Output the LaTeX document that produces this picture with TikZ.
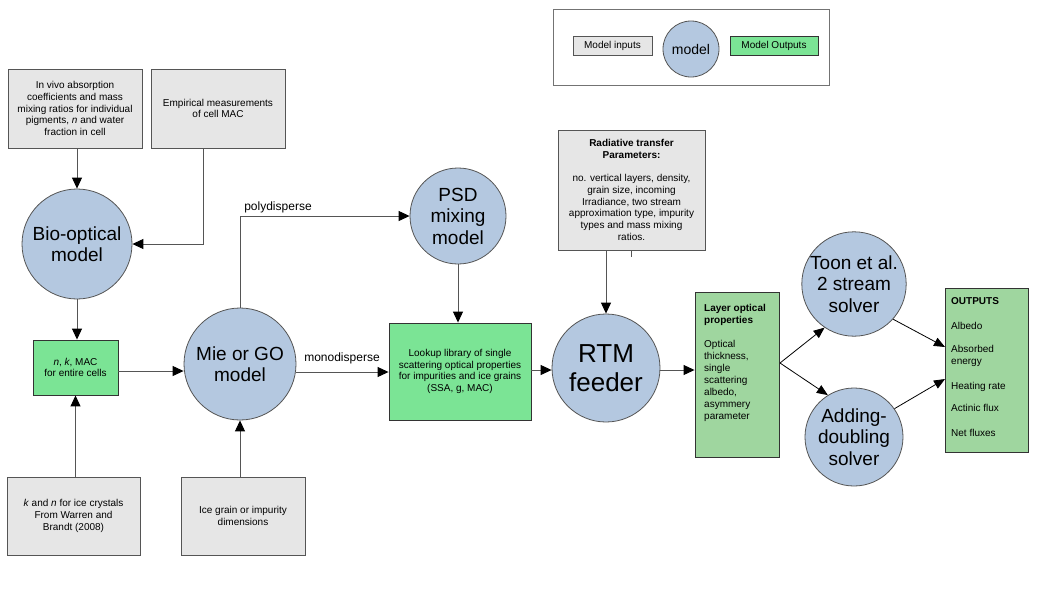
\documentclass[tikz,border=0pt]{standalone}
\usepackage{fontspec}
\setmainfont{Liberation Sans}
\usetikzlibrary{arrows.meta,calc}
\definecolor{gbox}{HTML}{E6E6E6}
\definecolor{gbright}{HTML}{7BE495}
\definecolor{gdull}{HTML}{9FD69F}
\definecolor{cblue}{HTML}{B4C8E0}
\definecolor{lncol}{HTML}{555555}
\begin{document}
\begin{tikzpicture}[x=1pt,y=-1pt,
  inbox/.style={draw=lncol, fill=gbox, line width=0.9pt, inner sep=0pt, align=center,
    font=\fontsize{10}{11.7}\selectfont},
  brightbox/.style={draw=black!80, fill=gbright, line width=0.9pt, inner sep=0pt, align=center,
    font=\fontsize{10}{11.7}\selectfont},
  dullbox/.style={draw=black!80, fill=gdull, line width=0.9pt, inner sep=0pt},
  model/.style={circle, draw=lncol, fill=cblue, line width=0.8pt, inner sep=0pt, align=center,
    font=\fontsize{19}{21.5}\selectfont},
  arr/.style={draw=lncol, line width=1pt, -{Triangle[length=11pt,width=10pt,color=black,fill=black]}},
  barr/.style={draw=black, line width=0.8pt, -{Triangle[length=11pt,width=9pt,color=black,fill=black]}},
  plain/.style={draw=lncol, line width=1pt},
  lbl/.style={font=\fontsize{12}{14}\selectfont, inner sep=0pt},
  listtxt/.style={inner sep=0pt, align=left, anchor=north west, font=\fontsize{10}{12}\selectfont}
]
\useasboundingbox (0,0) rectangle (1058,595);
\fill[white] (0,0) rectangle (1058,595);

% legend
\node[draw=black!55, line width=0.8pt, minimum width=276pt, minimum height=76pt, inner sep=0pt] (legend) at (691,47) {};
\node[inbox, minimum width=79pt, minimum height=19pt] (lin) at (612.5,45.5) {Model inputs};
\node[model, minimum size=56pt, font=\fontsize{14}{16}\selectfont] (lmod) at (691,49) {model};
\node[brightbox, minimum width=88pt, minimum height=19pt] (lout) at (774,45.5) {Model Outputs};

% inputs left
\node[inbox, minimum width=134pt, minimum height=79pt] (invivo) at (75,108.5)
  {In vivo absorption\\coefficients and mass\\mixing ratios for individual\\pigments, \textit{n} and water\\fraction in cell};
\node[inbox, minimum width=134pt, minimum height=79pt] (emp) at (218,108.5)
  {Empirical measurements\\of cell MAC};
\node[model, minimum size=110pt] (bio) at (77,244) {Bio-optical\\model};
\node[brightbox, minimum width=85pt, minimum height=55pt] (nk) at (75.5,367.5)
  {\textit{n}, \textit{k}, MAC\\for entire cells};
\node[inbox, minimum width=133pt, minimum height=78pt] (kn) at (73.5,516)
  {\textit{k} and \textit{n} for ice crystals\\From Warren and\\Brandt (2008)};

\node[model, minimum size=112pt] (mie) at (240,364) {Mie or GO\\model};
\node[inbox, minimum width=124pt, minimum height=78pt] (ice) at (243,516)
  {Ice grain or impurity\\dimensions};
\node[model, minimum size=96pt] (psd) at (458,216) {PSD\\mixing\\model};
\node[brightbox, minimum width=142pt, minimum height=97pt] (look) at (460,371.5)
  {Lookup library of single\\scattering optical properties\\for impurities and ice grains\\(SSA, g, MAC)};

\node[inbox, minimum width=147pt, minimum height=120pt] (rtp) at (631.5,190)
  {\textbf{Radiative transfer}\\\textbf{Parameters:}\\[11.7pt]no. vertical layers, density,\\grain size, incoming\\Irradiance, two stream\\approximation type, impurity\\types and mass mixing\\ratios.};
\node[model, minimum size=108pt, font=\fontsize{26}{29}\selectfont] (rtm) at (606,368) {RTM\\feeder};

\node[dullbox, minimum width=84pt, minimum height=165pt] (layer) at (737,374.5) {};
\node[listtxt] (layertxt) at (704,304)
  {\textbf{Layer optical}\\\textbf{properties}\\[12pt]Optical\\thickness,\\single\\scattering\\albedo,\\asymmery\\parameter};

\node[model, minimum size=98pt] (toon) at (854,284) {Toon et al.\\2 stream\\solver};
\node[model, minimum size=98pt] (add) at (854,437) {Adding-\\doubling\\solver};

\node[dullbox, minimum width=83pt, minimum height=164pt] (outs) at (986.5,370) {};
\node[listtxt] (outtxt) at (951,297)
  {\textbf{OUTPUTS}\\[13pt]Albedo\\[11pt]Absorbed\\energy\\[13pt]Heating rate\\[10pt]Actinic flux\\[13pt]Net fluxes};

% labels
\node[lbl] (poly) at (278,207) {polydisperse};
\node[lbl] (mono) at (342,358) {monodisperse};

% coordinates
\coordinate (empdown) at (203,148);
\coordinate (rtpdown) at (606,250);
\coordinate (ls) at (780,363);
\coordinate (o1) at (945,347);
\coordinate (o2) at (945,379);

% connectors
\draw[arr] (invivo.south -| bio.north) -- (bio.north);
\draw[arr] (empdown) |- (bio.east);
\draw[arr] (bio.south) -- (bio.south |- nk.north);
\draw[arr] (kn.north -| nk.south) -- (nk.south);
\draw[arr] (nk.east |- 0,371) -- (mie.west |- 0,371);
\draw[arr] (ice.north -| mie.south) -- (mie.south);
\draw[arr] (mie.north) |- (psd.west);
\draw[arr] (psd.south) -- (psd.south |- look.north);
\draw[arr] (mie.east |- 0,372) -- (look.west |- 0,372);
\draw[arr] (look.east |- 0,370) -- (rtm.west |- 0,370);
\draw[arr] (rtpdown) -- (rtm.north);
\draw[plain] (rtp.south) -- ++(0,7);
\draw[arr] (rtm.east |- 0,370) -- (layer.west |- 0,370);
\draw[barr] (ls) -- (toon.236);
\draw[barr] (ls) -- (add.122);
\draw[barr] (toon.318) -- (o1);
\draw[barr] (add.35) -- (o2);
\end{tikzpicture}
\end{document}
